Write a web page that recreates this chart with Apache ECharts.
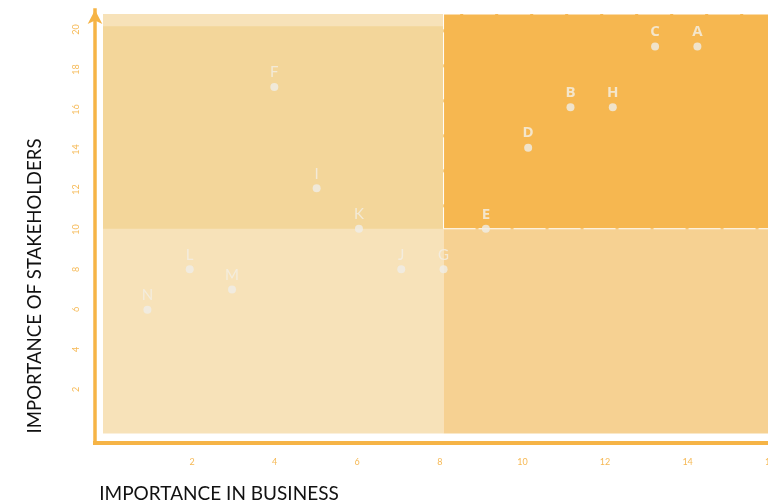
<!DOCTYPE html>
<html>
<head>
<meta charset="utf-8">
<script src="https://cdn.jsdelivr.net/npm/echarts@6/dist/echarts.min.js"></script>
<style>
html,body{margin:0;padding:0;background:#fff;}
#chart{width:768px;height:504px;}
</style>
</head>
<body>
<div id="chart"></div>
<script>
// ---- data ----
const names = ['A','B','C','D','E','F','G','H','I','J','K','L','M','N'];
const business = [14,11,13,10,9,4,8,12,5,7,6,2,3,1];
const stakeholders = [19,16,19,14,10,17,8,16,12,8,10,8,7,6];
const businessSplit = 8;
const stakeholderSplit = 10;
const stakeholderTop = 20;
const xTitle = 'IMPORTANCE IN BUSINESS';
const yTitle = 'IMPORTANCE OF STAKEHOLDERS';

const xMinD = -0.05, xMaxD = 16, yMinD = -0.1, yMaxD = 20.6;

const chart = echarts.init(document.getElementById('chart'));

const points = names.map((n, i) => {
  const hi = business[i] > businessSplit && stakeholders[i] >= stakeholderSplit;
  return {
    name: n,
    value: [business[i], stakeholders[i]],
    label: {
      fontWeight: hi ? 'bold' : 'normal',
      fontFamily: hi ? 'Open Sans' : 'Lato',
      color: hi ? '#f4f1ea' : '#f3efe6'
    }
  };
});

const option = {
  animation: false,
  backgroundColor: '#ffffff',
  grid: [
    {left: 103, top: 14, width: 679, height: 419.4, outerBoundsMode: 'none', containLabel: false},
    {left: 109.4, top: 29.5, width: 660.8, height: 400, outerBoundsMode: 'none', containLabel: false},
    {left: 95, top: 10, width: 720, height: 433, outerBoundsMode: 'none', containLabel: false}
  ],
  xAxis: [
    {gridIndex: 0, type: 'value', min: xMinD, max: xMaxD, show: false},
    {gridIndex: 1, type: 'value', min: 0, max: 16, interval: 2,
      axisLine: {show: false}, axisTick: {show: false}, splitLine: {show: false},
      axisLabel: {show: true, showMinLabel: false, hideOverlap: false, margin: 28, color: '#f6b955', fontSize: 9, fontFamily: 'Lato'}},
    {gridIndex: 2, type: 'value', min: 0, max: 1,
      axisLine: {show: true, lineStyle: {color: '#f6b446', width: 4, cap: 'square'}},
      axisTick: {show: false}, axisLabel: {show: false}, splitLine: {show: false}}
  ],
  yAxis: [
    {gridIndex: 0, type: 'value', min: yMinD, max: yMaxD, show: false},
    {gridIndex: 1, type: 'value', min: 0, max: 20, interval: 2,
      axisLine: {show: false}, axisTick: {show: false}, splitLine: {show: false},
      axisLabel: {show: true, showMinLabel: false, rotate: 90, margin: 29, color: '#f6b955', fontSize: 9, fontFamily: 'Lato'}},
    {gridIndex: 2, type: 'value', min: 0, max: 1,
      axisLine: {show: true, symbol: ['none', 'arrow'], symbolSize: [11, 14],
        lineStyle: {color: '#f6b446', width: 3.5, cap: 'square'}},
      axisTick: {show: false}, axisLabel: {show: false}, splitLine: {show: false}}
  ],
  series: [
    {
      type: 'scatter', xAxisIndex: 0, yAxisIndex: 0, data: [], z: 1, silent: true,
      markArea: {
        silent: true,
        data: [
          [{xAxis: xMinD, yAxis: yMinD, itemStyle: {color: '#f7e2b9'}}, {xAxis: businessSplit, yAxis: yMaxD}],
          [{xAxis: xMinD, yAxis: stakeholderSplit, itemStyle: {color: '#f3d69a'}}, {xAxis: businessSplit, yAxis: stakeholderTop}],
          [{xAxis: businessSplit, yAxis: yMinD, itemStyle: {color: '#f6d192'}}, {xAxis: xMaxD, yAxis: stakeholderSplit}],
          [{xAxis: businessSplit, yAxis: stakeholderSplit, itemStyle: {color: '#f6b750', borderColor: '#ffffff', borderWidth: 1, borderType: [32, 3]}}, {xAxis: xMaxD, yAxis: yMaxD}]
        ]
      }
    },
    {
      type: 'scatter', xAxisIndex: 0, yAxisIndex: 0, z: 5,
      symbol: 'circle', symbolSize: 8,
      itemStyle: {color: '#efede9'},
      label: {show: true, position: 'top', distance: 3, fontSize: 15, formatter: p => p.name},
      data: points
    }
  ],
  graphic: [
    {type: 'text', x: 35, y: 286, rotation: Math.PI / 2,
      style: {text: yTitle, fill: '#111111', font: '18.6px Lato', align: 'center', verticalAlign: 'middle'}},
    {type: 'text', x: 219, y: 494,
      style: {text: xTitle, fill: '#111111', font: '19px Lato', align: 'center', verticalAlign: 'middle'}}
  ]
};
chart.setOption(option);
</script>
</body>
</html>
